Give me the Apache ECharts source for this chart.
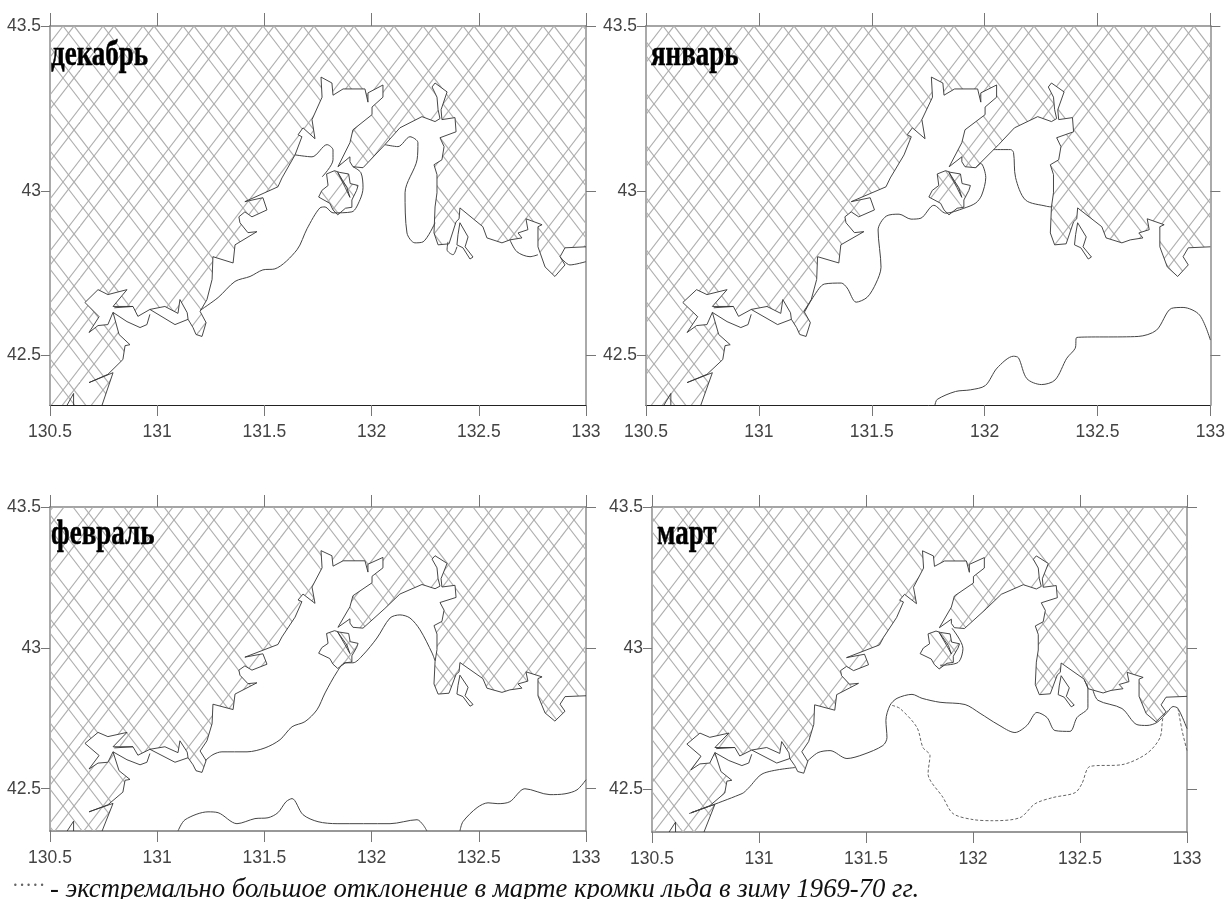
<!DOCTYPE html>
<html><head><meta charset="utf-8">
<style>html,body{margin:0;padding:0;background:#fff}#c{width:1228px;height:899px}</style>
<script src="https://cdn.jsdelivr.net/npm/echarts@6/dist/echarts.min.js"></script>
</head><body><div id="c"></div>
<script>
const monthNames = ['декабрь','январь','февраль','март'];
const lonTicks = [130.5,131,131.5,132,132.5,133];
const latTicks = [42.5,43,43.5];
const footnoteDots = '·····';
const footnoteText = '- экстремально большое отклонение в марте кромки льда в зиму 1969-70 гг.';

const coastline = [[130.743,42.35],[130.794,42.448],[130.682,42.418],[130.77,42.443],[130.84,42.488],[130.85,42.53],[130.873,42.533],[130.822,42.564],[130.794,42.631],[130.77,42.594],[130.724,42.591],[130.682,42.57],[130.729,42.618],[130.663,42.661],[130.724,42.7],[130.77,42.685],[130.859,42.7],[130.794,42.649],[130.887,42.649],[130.91,42.619],[130.966,42.64],[131.036,42.649],[131.097,42.628],[131.106,42.67],[131.14,42.63],[131.144,42.61],[131.167,42.585],[131.181,42.564],[131.209,42.558],[131.228,42.6],[131.2,42.634],[131.232,42.67],[131.256,42.731],[131.26,42.8],[131.354,42.781],[131.363,42.836],[131.465,42.876],[131.423,42.873],[131.386,42.903],[131.381,42.921],[131.409,42.936],[131.442,42.921],[131.512,42.942],[131.493,42.979],[131.409,42.967],[131.563,43.012],[131.582,43.039],[131.643,43.109],[131.675,43.164],[131.657,43.17],[131.68,43.191],[131.736,43.158],[131.722,43.216],[131.769,43.284],[131.764,43.345],[131.815,43.327],[131.82,43.29],[131.867,43.309],[131.969,43.309],[131.983,43.269],[131.983,43.297],[132.053,43.321],[132.053,43.284],[132.002,43.254],[132.002,43.231],[131.913,43.185],[131.899,43.146],[131.843,43.073],[131.899,43.103],[131.899,43.088],[131.913,43.073],[131.96,43.07],[132.062,43.14],[132.132,43.191],[132.235,43.225],[132.296,43.21],[132.319,43.219],[132.31,43.246],[132.305,43.284],[132.282,43.315],[132.296,43.327],[132.352,43.3],[132.324,43.246],[132.328,43.216],[132.389,43.222],[132.394,43.179],[132.319,43.161],[132.338,43.134],[132.328,43.094],[132.291,43.079],[132.305,43.049],[132.305,42.994],[132.296,42.951],[132.291,42.872],[132.31,42.836],[132.361,42.839],[132.394,42.906],[132.408,42.915],[132.412,42.948],[132.519,42.891],[132.538,42.857],[132.608,42.842],[132.645,42.851],[132.701,42.857],[132.683,42.872],[132.729,42.882],[132.72,42.915],[132.795,42.897],[132.776,42.891],[132.776,42.83],[132.809,42.769],[132.855,42.74],[132.902,42.775],[132.879,42.8],[132.902,42.827],[133,42.83]];
const landCorners = [[133,43.5],[130.5,43.5],[130.5,42.35]];
const russkyIsland = [[131.827,43.061],[131.849,43.056],[131.893,43.051],[131.9,43.022],[131.937,43.016],[131.93,43.001],[131.908,42.972],[131.908,42.95],[131.878,42.947],[131.842,42.927],[131.82,42.942],[131.805,42.962],[131.753,42.981],[131.768,43.001],[131.797,43.016],[131.79,43.051],[131.827,43.061]];
const russkySlit = [[131.842,43.056],[131.877,43.01],[131.899,42.98],[131.885,43.01],[131.842,43.056]];
const putyatinIsland = [[132.412,42.903],[132.45,42.86],[132.436,42.83],[132.473,42.799],[132.459,42.793],[132.426,42.827],[132.398,42.836],[132.403,42.867],[132.412,42.903]];
const posyetBayOuter = [[130.794,42.631],[130.859,42.603],[130.92,42.585],[130.952,42.594],[130.966,42.625]];
const posyetBayInner = [[130.966,42.64],[131.083,42.594],[131.144,42.61]];
const posyetBaySpit = [[130.8,42.645],[130.887,42.649]];
const southBayNotch = [[130.58,42.35],[130.61,42.385],[130.61,42.35]];

const iceDecA = [[131.2,42.637],[131.284,42.676],[131.363,42.725],[131.433,42.74],[131.493,42.76],[131.549,42.763],[131.652,42.821],[131.699,42.885],[131.759,42.948],[131.783,42.951],[131.82,42.933],[131.908,42.936],[131.946,42.973],[131.96,43.009],[131.95,43.055],[131.913,43.073]];
const iceDecB = [[131.643,43.109],[131.722,43.103],[131.792,43.14],[131.82,43.124],[131.82,43.094],[131.769,43.042]];
const iceDecC = [[132.062,43.14],[132.123,43.134],[132.179,43.164],[132.216,43.146],[132.212,43.094],[132.156,42.994],[132.165,42.872],[132.202,42.842],[132.24,42.845],[132.296,42.903]];
const iceDecD = [[132.645,42.851],[132.678,42.815],[132.739,42.8],[132.776,42.806]];
const iceDecE = [[132.879,42.8],[132.925,42.775],[133,42.785]];
const iceDecF = [[132.356,42.845],[132.352,42.821],[132.38,42.806],[132.398,42.83]];

const iceJanA = [[131.202,42.632],[131.246,42.683],[131.29,42.717],[131.365,42.72],[131.391,42.705],[131.431,42.662],[131.48,42.677],[131.519,42.72],[131.541,42.768],[131.528,42.881],[131.564,42.923],[131.621,42.929],[131.674,42.914],[131.718,42.917],[131.775,42.956],[131.828,42.932],[131.908,42.947],[131.961,42.963],[131.987,42.987],[132.005,43.04],[131.983,43.083],[131.96,43.07]];
const iceJanB = [[132.04,43.125],[132.115,43.125],[132.128,43.116],[132.137,43.04],[132.181,42.972],[132.274,42.953],[132.296,42.951]];
const iceJanC = [[131.78,42.35],[131.79,42.367],[131.871,42.391],[131.937,42.396],[132.003,42.409],[132.055,42.462],[132.128,42.498],[132.15,42.493],[132.187,42.43],[132.252,42.412],[132.312,42.426],[132.364,42.492],[132.401,42.522],[132.408,42.555],[132.68,42.558],[132.761,42.577],[132.827,42.643],[132.879,42.646],[132.952,42.623],[133,42.547]];

const iceFebA = [[131.223,42.599],[131.26,42.621],[131.302,42.631],[131.419,42.631],[131.503,42.645],[131.573,42.674],[131.629,42.72],[131.689,42.738],[131.745,42.78],[131.783,42.84],[131.839,42.915],[131.876,42.947],[131.913,42.947],[131.96,42.975],[132.025,43.035],[132.086,43.106],[132.132,43.117],[132.179,43.106],[132.226,43.064],[132.282,42.982],[132.296,42.954]];
const iceFebB = [[131.097,42.35],[131.13,42.39],[131.237,42.418],[131.284,42.415],[131.372,42.376],[131.456,42.394],[131.517,42.397],[131.563,42.415],[131.601,42.454],[131.629,42.465],[131.68,42.408],[131.75,42.383],[131.839,42.376],[132.086,42.376],[132.212,42.39],[132.24,42.372],[132.258,42.35]];
const iceFebC = [[132.412,42.35],[132.426,42.383],[132.492,42.433],[132.543,42.45],[132.589,42.447],[132.645,42.454],[132.715,42.5],[132.832,42.479],[132.902,42.482],[132.958,42.496],[133,42.532]];

const iceMarA = [[130.673,42.415],[130.921,42.486],[130.949,42.504],[131.019,42.557],[131.168,42.578]];
const iceMarB = [[131.224,42.599],[131.276,42.631],[131.332,42.638],[131.411,42.61],[131.486,42.624],[131.579,42.656],[131.598,42.684],[131.593,42.745],[131.612,42.798],[131.645,42.823],[131.715,42.837],[131.762,42.823],[131.846,42.809],[131.963,42.801],[132.033,42.77],[132.117,42.73],[132.196,42.702],[132.252,42.727],[132.299,42.773],[132.346,42.755],[132.383,42.709],[132.453,42.706],[132.486,42.755],[132.537,42.791],[132.537,42.858],[132.52,42.887]];
const iceMarC = [[132.561,42.851],[132.584,42.816],[132.696,42.787],[132.766,42.73],[132.813,42.727],[132.86,42.738],[132.907,42.773],[132.935,42.794],[132.958,42.787],[133,42.716]];
const iceMarRing = [[131.902,43.071],[131.953,43.0],[131.93,42.95],[131.846,42.94]];
const extremeMarA = [[131.622,42.798],[131.659,42.787],[131.738,42.72],[131.766,42.649],[131.799,42.621],[131.79,42.557],[131.86,42.472],[131.907,42.415],[132,42.394],[132.093,42.39],[132.22,42.401],[132.29,42.45],[132.374,42.472],[132.477,42.489],[132.509,42.521],[132.547,42.582],[132.701,42.589],[132.813,42.628],[132.874,42.684],[132.888,42.755],[132.911,42.78]];
const extremeMarB = [[132.958,42.787],[132.977,42.709],[133,42.638]];

const landPolygon = coastline.concat(landCorners);
const sharedLines = [coastline, russkyIsland, russkySlit, putyatinIsland, posyetBayOuter, posyetBayInner, posyetBaySpit, southBayNotch];
const iceByMonth = [
  [iceDecA, iceDecB, iceDecC, iceDecD, iceDecE, iceDecF],
  [iceJanA, iceJanB, iceJanC],
  [iceFebA, iceFebB, iceFebC],
  [iceMarA, iceMarB, iceMarC, iceMarRing]
];
const extremeByMonth = [[],[],[],[extremeMarA, extremeMarB]];

const rects = [
  {left:50,top:26,width:536,height:379,bottom:'#222',bw:1,tick:13,nameX:51,nameY:38},
  {left:646,top:26,width:567,height:379,bottom:'#222',bw:1,tick:13,nameX:651,nameY:38},
  {left:50,top:507,width:536,height:324,bottom:'#777',bw:1.5,tick:12,nameX:51,nameY:517},
  {left:652,top:507,width:535,height:325,bottom:'#777',bw:1.5,tick:12,nameX:657,nameY:517}
];

function hatch(){
  const W=40,H=52,c=document.createElement('canvas');c.width=W;c.height=H;
  const g=c.getContext('2d');g.strokeStyle='#aeaeae';g.lineWidth=1.15;
  [3,14].forEach(off=>{
    for(let k=-2;k<=2;k++){
      g.beginPath();g.moveTo(off+k*W,0);g.lineTo(off+k*W+W,H);g.stroke();
      g.beginPath();g.moveTo(off+k*W+W,0);g.lineTo(off+k*W,H);g.stroke();
    }
  });
  return c;
}
const pattern={image:hatch(),repeat:'repeat'};

const axisFont={fontFamily:'"Liberation Sans",sans-serif',fontSize:17.5,color:'#444'};
const grid=[],xAxis=[],yAxis=[],series=[],graphic=[];
rects.forEach((r,i)=>{
  grid.push({left:r.left,top:r.top,width:r.width,height:r.height,containLabel:false});
  const sideLine={lineStyle:{color:'#aaa',width:2}};
  const tickStyle={lineStyle:{color:'#777',width:1}};
  xAxis.push({gridIndex:i,type:'value',min:130.5,max:133,interval:0.5,position:'bottom',splitLine:{show:false},
    axisLine:{onZero:false,lineStyle:{color:r.bottom,width:r.bw}},
    axisTick:Object.assign({length:11,customValues:lonTicks},tickStyle),
    axisLabel:Object.assign({margin:18,customValues:lonTicks,showMinLabel:true,showMaxLabel:true,formatter:v=>String(v),hideOverlap:false},axisFont)});
  xAxis.push({gridIndex:i,type:'value',min:130.5,max:133,interval:0.5,position:'top',splitLine:{show:false},
    axisLine:{onZero:false,lineStyle:{color:'#888',width:1.5}},
    axisTick:Object.assign({length:r.tick,customValues:lonTicks},tickStyle),axisLabel:{show:false}});
  yAxis.push({gridIndex:i,type:'value',min:42.35,max:43.5,position:'left',splitLine:{show:false},
    axisLine:Object.assign({onZero:false},sideLine),
    axisTick:Object.assign({length:9,customValues:latTicks},tickStyle),
    axisLabel:Object.assign({margin:9,customValues:latTicks,formatter:v=>String(v),showMinLabel:true,showMaxLabel:true,hideOverlap:false},axisFont)});
  yAxis.push({gridIndex:i,type:'value',min:42.35,max:43.5,position:'right',splitLine:{show:false},
    axisLine:Object.assign({onZero:false},sideLine),
    axisTick:Object.assign({length:10,customValues:latTicks},tickStyle),axisLabel:{show:false}});
  const xi=i*2,yi=i*2;
  [landPolygon,russkyIsland].forEach(poly=>{
    series.push({type:'custom',coordinateSystem:'cartesian2d',xAxisIndex:xi,yAxisIndex:yi,silent:true,z:1,clip:true,
      data:poly,encode:{x:0,y:1},
      renderItem:(params,api)=>{
        if(params.dataIndex!==0)return null;
        return {type:'polygon',shape:{points:poly.map(p=>api.coord(p))},style:{fill:pattern,stroke:null}};
      }});
  });
  const line=(d,extra)=>series.push(Object.assign({type:'line',xAxisIndex:xi,yAxisIndex:yi,data:d,showSymbol:false,symbol:'none',silent:true,z:3,clip:true,
    lineStyle:{color:'#333',width:0.9}},extra||{}));
  sharedLines.forEach(d=>line(d));
  iceByMonth[i].forEach(d=>line(d,{smooth:0.3,lineStyle:{color:'#444',width:1}}));
  extremeByMonth[i].forEach(d=>line(d,{smooth:0.3,lineStyle:{color:'#666',width:1,type:[3,2]}}));
  graphic.push({type:'text',x:r.nameX,y:r.nameY,scaleY:1.3,z:10,style:{text:monthNames[i],fill:'#000',stroke:'#000',lineWidth:0.4,font:'bold 27px "Liberation Serif",serif'}});
});
graphic.push({type:'text',x:12,y:877,style:{text:footnoteDots,fill:'#666',font:'20px "Liberation Serif",serif'}});
graphic.push({type:'text',x:50,y:876,style:{text:footnoteText,fill:'#111',font:'italic 26.7px "Liberation Serif",serif'}});

const chart=echarts.init(document.getElementById('c'),null,{renderer:'canvas'});
chart.setOption({animation:false,backgroundColor:'#fff',graphic,grid,xAxis,yAxis,series,tooltip:{show:false},legend:{show:false}});
</script></body></html>
